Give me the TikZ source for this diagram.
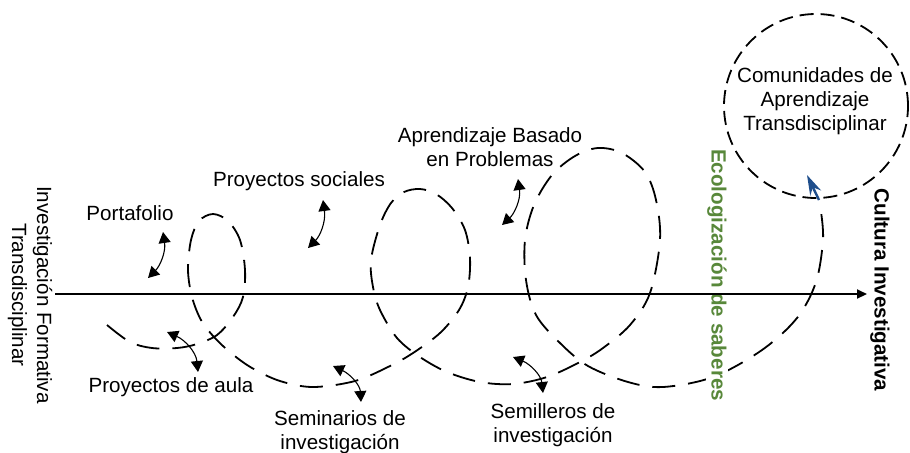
\documentclass[tikz,border=0pt]{standalone}
\usepackage{fontspec}
\setmainfont{Liberation Sans}
\usetikzlibrary{arrows.meta}
\definecolor{ecogreen}{RGB}{88,136,58}
\definecolor{cursorblue}{RGB}{31,78,140}
\tikzset{
  lbl/.style={align=center, inner sep=0pt, font=\fontsize{10.3}{12}\selectfont},
  vlbl/.style={align=center, inner sep=0pt, rotate=-90, font=\fontsize{10.3}{12.5}\selectfont},
  curly/.style={line width=0.55pt, {Triangle[length=5.5pt,width=6pt]}-{Triangle[length=5.5pt,width=6pt]}},
  spiral/.style={line width=0.9pt, dash pattern=on 11.5pt off 6.5pt},
}
\begin{document}
\begin{tikzpicture}[x=0.5pt, y=-0.5pt]
\useasboundingbox (0,0) rectangle (910,452);
% spiral
\draw[spiral] plot[smooth, tension=0.55] coordinates {
(107,325) (130,342) (152,348) (177,348) (197,344) (217,335) (233,317) (243,297) (245,270) (240,240) (228,221) (213,214) (199,221) (191,240) (188,270) (192,297) (201,320) (214,337) (231,353) (252,368) (280,381) (313,387) (355,381) (390,366) (413,353) (440,333) (459,310) (468,287) (470,258) (465,230) (452,208) (436,194) (420,189) (404,192) (391,203) (380,225) (371,260) (373,287) (380,310) (397,338) (420,357) (447,372) (480,382) (513,384) (547,377) (580,362) (603,348) (630,325) (650,293) (660,240) (656,200) (645,172) (622,153) (598,148) (575,156) (552,175) (534,205) (525,240) (526,280) (536,315) (560,343) (588,366) (628,382) (663,387) (713,377) (762,350) (797,318) (816,282) (823,240) (821,212)
};
% circle
\node[circle, draw, line width=0.9pt, dash pattern=on 7pt off 3.5pt, minimum size=92pt, inner sep=0pt] (comm) at (816,106) {};
\node[lbl] (comtext) at (815,101) {Comunidades de\\Aprendizaje\\Transdisciplinar};
% green vertical label (over spiral, under axis)
\node[vlbl, fill=white, inner sep=0.6pt, font=\fontsize{10.3}{12.5}\selectfont\bfseries, text=ecogreen] (eco) at (717,275) {Ecologización de saberes};
% axis
\coordinate (axs) at (55,294);
\coordinate (axe) at (867,294);
\draw[line width=1pt, -{Triangle[length=5pt,width=4.5pt]}] (axs) -- (axe);
% cursor arrow
\coordinate (bt) at (819,200);
\coordinate (bh) at (807,175);
\draw[cursorblue, line width=1.2pt, -{Stealth[length=10pt,width=6pt]}] (bt) -- (bh);
% labels
\node[lbl] (port) at (130,213) {Portafolio};
\node[lbl] (psoc) at (299,181) {Proyectos sociales};
\node[lbl] (abp) at (490,147) {Aprendizaje Basado\\en Problemas};
\node[lbl] (paula) at (171,387) {Proyectos de aula};
\node[lbl] (semi) at (340,432) {Seminarios de\\investigación};
\node[lbl] (semil) at (553,425) {Semilleros de\\investigación};
\node[vlbl] (ift) at (30,295) {Investigación Formativa\\Transdisciplinar};
\node[vlbl, font=\fontsize{10.3}{12.5}\selectfont\bfseries] (cult) at (880,290) {Cultura Investigativa};
% curly arrows
\coordinate (a1s) at (163,232); \coordinate (a1e) at (148,278);
\draw[curly] (a1s) .. controls (166,252) and (160,266) .. (a1e);
\coordinate (a2s) at (167,332); \coordinate (a2e) at (198,372);
\draw[curly] (a2s) .. controls (185,340) and (196,352) .. (a2e);
\coordinate (a3s) at (323,200); \coordinate (a3e) at (308,248);
\draw[curly] (a3s) .. controls (326,222) and (320,236) .. (a3e);
\coordinate (a4s) at (333,366); \coordinate (a4e) at (361,402);
\draw[curly] (a4s) .. controls (350,374) and (360,385) .. (a4e);
\coordinate (a5s) at (518,179); \coordinate (a5e) at (502,225);
\draw[curly] (a5s) .. controls (521,200) and (514,214) .. (a5e);
\coordinate (a6s) at (513,357); \coordinate (a6e) at (543,393);
\draw[curly] (a6s) .. controls (530,364) and (541,375) .. (a6e);
\end{tikzpicture}
\end{document}
